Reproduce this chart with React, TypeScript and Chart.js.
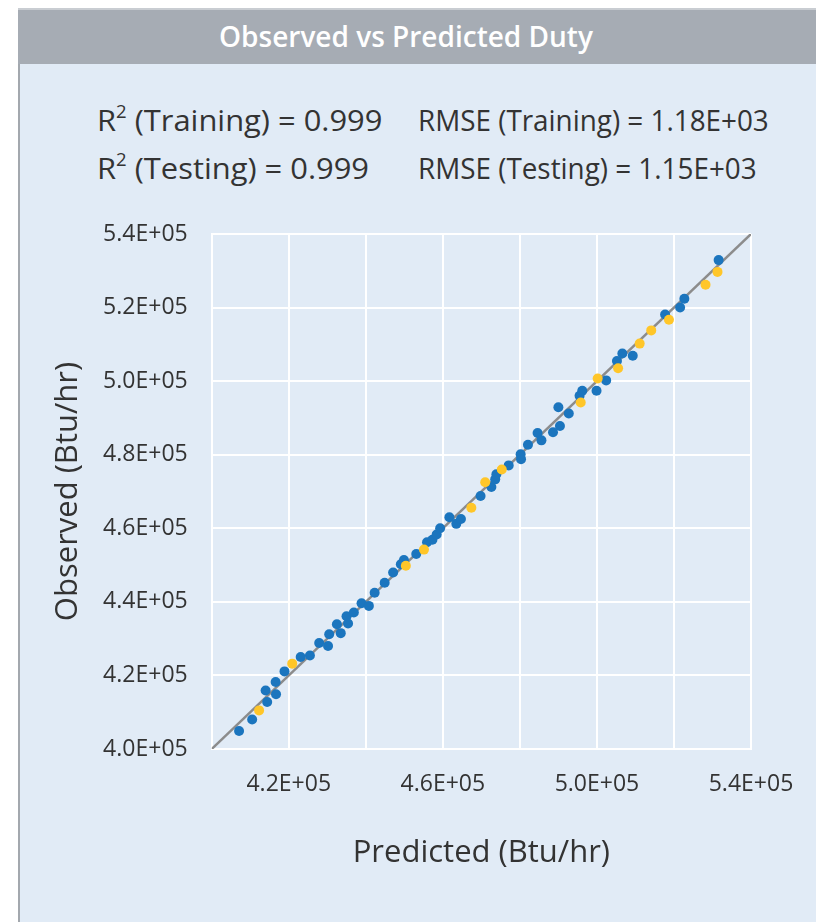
import React, { useEffect, useRef } from 'react';
import { Chart, registerables } from 'chart.js';

Chart.register(...registerables);

// ---- Data ----
const trainingPredicted = [
  407100, 410500, 414400, 414000, 416700, 416600, 418900, 423100, 425500, 427900,
  430200, 430500, 432500, 433500, 435000, 435400, 436900, 438900, 440800, 442300,
  444900, 447100, 449100, 449900, 453100, 455900, 457300, 458400, 459300, 461700,
  463500, 464700, 469800, 472600, 473600, 473900, 477100, 480300, 480200, 482100,
  484600, 485600, 488600, 490400, 490000, 492700, 495500, 496200, 499900, 502400,
  505200, 506600, 509300, 517700, 521600, 522700, 531600,
];
const trainingObserved = [
  404900, 408000, 412800, 415900, 414900, 418200, 421100, 425000, 425400, 428800,
  428000, 431200, 433900, 431500, 436100, 434100, 437100, 439600, 438900, 442500,
  445200, 448000, 450200, 451400, 453000, 456200, 456900, 458300, 460000, 463000,
  461200, 462500, 468800, 471200, 473300, 474700, 477100, 478800, 480100, 482700,
  485900, 483900, 486100, 487800, 492900, 491200, 496000, 497400, 497400, 500200,
  505500, 507500, 506900, 518100, 520000, 522400, 532900,
];
const testingPredicted = [
  412300, 420900, 450400, 455100, 467400, 471000, 475300, 495800, 500200, 505500,
  511100, 514100, 518700, 528200, 531300,
];
const testingObserved = [
  410500, 423200, 449800, 454200, 465600, 472500, 476000, 494200, 500700, 503500,
  510200, 513800, 516700, 526200, 529700,
];
const parityLine = [400000, 540000];

const axisMin = 400000;
const axisMax = 540000;
const axisStep = 20000;
const xTickLabels: Record<number, string> = {
  420000: '4.2E+05',
  460000: '4.6E+05',
  500000: '5.0E+05',
  540000: '5.4E+05',
};
const yTickLabels: Record<number, string> = {
  400000: '4.0E+05',
  420000: '4.2E+05',
  440000: '4.4E+05',
  460000: '4.6E+05',
  480000: '4.8E+05',
  500000: '5.0E+05',
  520000: '5.2E+05',
  540000: '5.4E+05',
};

const chartTitle = 'Observed vs Predicted Duty';
const xAxisTitle = 'Predicted (Btu/hr)';
const yAxisTitle = 'Observed (Btu/hr)';
const r2Labels = ['(Training) = 0.999', '(Testing) = 0.999'];
const rmseLabels = ['RMSE (Training) = 1.18E+03', 'RMSE (Testing) = 1.15E+03'];

const FONT = "'Open Sans', 'DejaVu Sans', sans-serif";
const TEXT = '#333333';

export default function App() {
  const canvasRef = useRef<HTMLCanvasElement | null>(null);

  useEffect(() => {
    const canvas = canvasRef.current;
    if (!canvas) return;
    const training = trainingPredicted.map((x, i) => ({ x, y: trainingObserved[i] }));
    const testing = testingPredicted.map((x, i) => ({ x, y: testingObserved[i] }));
    const line = parityLine.map((v) => ({ x: v, y: v }));

    const chart = new Chart(canvas, {
      type: 'scatter',
      data: {
        datasets: [
          {
            label: 'Testing',
            data: testing,
            backgroundColor: '#FFC629',
            borderWidth: 0,
            pointRadius: 5,
            order: 1,
          },
          {
            label: 'Training',
            data: training,
            backgroundColor: '#1B75BE',
            borderWidth: 0,
            pointRadius: 5,
            order: 2,
          },
          {
            label: 'Parity',
            type: 'line',
            data: line,
            borderColor: '#8C8C8C',
            borderWidth: 2.5,
            pointRadius: 0,
            fill: false,
            order: 3,
          },
        ] as any,
      },
      options: {
        animation: false,
        responsive: false,
        maintainAspectRatio: false,
        layout: { padding: { left: 50, right: 65, top: 234, bottom: 50 } },
        plugins: {
          legend: { display: false },
          tooltip: { enabled: false },
        },
        scales: {
          x: {
            type: 'linear',
            min: axisMin,
            max: axisMax,
            afterFit: (s: any) => {
              s.height = 123;
            },
            grid: { color: '#FFFFFF', lineWidth: 2, drawTicks: false },
            border: { color: '#FFFFFF', width: 2 },
            ticks: {
              stepSize: axisStep,
              autoSkip: false,
              maxRotation: 0,
              padding: 22,
              color: TEXT,
              font: { family: FONT, size: 23 },
              callback: (v: any) => xTickLabels[Number(v)] ?? '',
            },
            title: {
              display: true,
              text: xAxisTitle,
              color: TEXT,
              padding: 0,
              font: { family: FONT, size: 31 },
            },
          },
          y: {
            type: 'linear',
            min: axisMin,
            max: axisMax,
            afterFit: (s: any) => {
              s.width = 161.7;
            },
            grid: { color: '#FFFFFF', lineWidth: 2, drawTicks: false },
            border: { color: '#FFFFFF', width: 2 },
            ticks: {
              stepSize: axisStep,
              autoSkip: false,
              padding: 24,
              color: TEXT,
              font: { family: FONT, size: 23 },
              callback: (v: any) => yTickLabels[Number(v)] ?? '',
            },
            title: {
              display: true,
              text: yAxisTitle,
              color: TEXT,
              padding: 0,
              font: { family: FONT, size: 31 },
            },
          },
        },
      } as any,
    });
    return () => chart.destroy();
  }, []);

  const statStyle: React.CSSProperties = {
    position: 'absolute',
    fontFamily: FONT,
    fontSize: 29,
    color: TEXT,
    whiteSpace: 'nowrap',
    lineHeight: '36px',
    transformOrigin: 'left center',
  };

  return (
    <div
      style={{
        position: 'fixed',
        left: 0,
        top: 0,
        width: 816,
        height: 922,
        overflow: 'hidden',
        background: '#FFFFFF',
      }}
    >
      <div
        style={{
          position: 'absolute',
          left: 18,
          top: 8,
          width: 820,
          height: 930,
          background: '#E1EBF6',
          borderLeft: '2px solid #A3A8AE',
          boxSizing: 'border-box',
        }}
      />
      <div
        style={{
          position: 'absolute',
          left: 18,
          top: 8,
          width: 820,
          height: 56,
          background: '#A6ACB4',
          borderTop: '2px solid #C9CDD2',
          boxSizing: 'border-box',
        }}
      />
      <div
        style={{
          position: 'absolute',
          left: 18,
          top: 8,
          width: 776,
          height: 56,
          lineHeight: '56px',
          textAlign: 'center',
          color: '#FFFFFF',
          fontFamily: FONT,
          fontWeight: 600,
          fontSize: 28,
        }}
      >
        {chartTitle}
      </div>
      {r2Labels.map((t, i) => (
        <div
          key={'r2' + i}
          style={{ ...statStyle, left: 97, top: 102 + i * 48, transform: 'scaleX(1.065)' }}
        >
          R<sup style={{ fontSize: '0.6em', lineHeight: 0, verticalAlign: '0.75em' }}>2</sup> {t}
        </div>
      ))}
      {rmseLabels.map((t, i) => (
        <div
          key={'rm' + i}
          style={{ ...statStyle, left: 418, top: 102 + i * 48, transform: 'scaleX(0.96)' }}
        >
          {t}
        </div>
      ))}
      <canvas
        ref={canvasRef}
        width={816}
        height={922}
        style={{ position: 'absolute', left: 0, top: 0, width: 816, height: 922 }}
      />
    </div>
  );
}
